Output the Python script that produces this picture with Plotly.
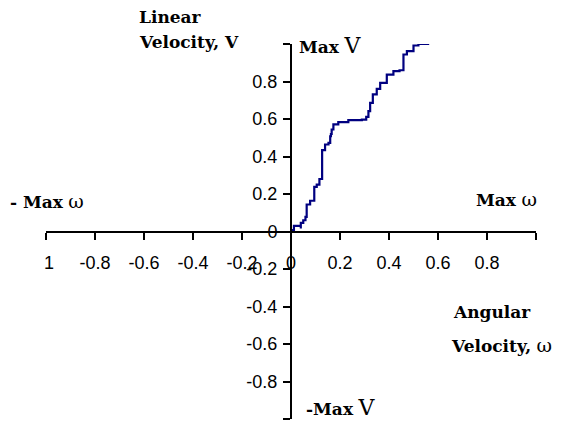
import plotly.graph_objects as go

# Data: angular velocity (x) vs linear velocity (y)
omega = [0.0, 0.012, 0.03, 0.04, 0.04, 0.05, 0.059, 0.064, 0.078, 0.095, 0.095, 0.105,
         0.116, 0.127, 0.127, 0.139, 0.153, 0.16, 0.163, 0.166, 0.173, 0.193, 0.234,
         0.289, 0.307, 0.316, 0.323, 0.334, 0.350, 0.364, 0.391, 0.418, 0.443, 0.459,
         0.459, 0.473, 0.50, 0.52, 0.564]
lin_v = [0.007, 0.03, 0.03, 0.016, 0.046, 0.06, 0.078, 0.144, 0.164, 0.17, 0.238, 0.25,
         0.28, 0.286, 0.434, 0.464, 0.473, 0.508, 0.52, 0.544, 0.571, 0.583, 0.594,
         0.597, 0.611, 0.642, 0.686, 0.731, 0.761, 0.793, 0.837, 0.855, 0.86, 0.866,
         0.944, 0.962, 0.992, 1.0, 1.0]

tick_vals = [-1, -0.8, -0.6, -0.4, -0.2, 0, 0.2, 0.4, 0.6, 0.8, 1]
x_tick_text = ["<span style='color:white'>-</span>1", "-0.8", "-0.6", "-0.4", "-0.2", "0",
               "0.2", "0.4", "0.6", "0.8", ""]
y_tick_text = ["-1", "-0.8", "-0.6", "-0.4", "-0.2", "0", "0.2", "0.4", "0.6", "0.8", ""]

W, H = 561, 423
L, R, T, B = 46, 25, 44, 4
PW, PH = W - L - R, H - T - B

def px(x):
    return (x - L) / PW

def py(y):
    return (H - B - y) / PH

fig = go.Figure()
fig.add_trace(go.Scatter(x=omega, y=lin_v, mode="lines", line_shape="hv",
                         line=dict(color="#000080", width=2.2), showlegend=False,
                         hoverinfo="skip", cliponaxis=False))

tickfont = dict(family="Liberation Sans, Arial", size=18, color="#000")
fig.update_layout(
    width=W, height=H, margin=dict(l=L, r=R, t=T, b=B),
    paper_bgcolor="white", plot_bgcolor="white",
    xaxis=dict(range=[-1, 1], anchor="free", position=0.5, showgrid=False, zeroline=False,
               showline=True, linecolor="#000", linewidth=2, ticks="outside", ticklen=7,
               tickwidth=2, tickcolor="#000", tickvals=tick_vals, ticktext=x_tick_text,
               tickfont=tickfont, ticklabelstandoff=8),
    yaxis=dict(range=[-1, 1], anchor="free", position=0.5, showgrid=False, zeroline=False,
               showline=True, linecolor="#000", linewidth=2, ticks="outside", ticklen=7,
               tickwidth=2, tickcolor="#000", tickvals=tick_vals, ticktext=y_tick_text,
               tickfont=tickfont, ticklabelstandoff=2),
)

serif = "DejaVu Serif, serif"
labels = [
    ("<b>Linear</b>", 137, 17),
    ("<b>Velocity, V</b>", 137, 42),
    ("<b>Max</b> <span style='font-size:22px'>V</span>", 297, 45),
    ("<b>- Max</b> <span style='font-size:19px'>ω</span>", 8, 201),
    ("<b>Max</b> <span style='font-size:19px'>ω</span>", 474, 199),
    ("<b>Angular</b>", 451, 312),
    ("<b>Velocity,</b> <span style='font-size:19px'>ω</span>", 449, 345),
    ("<b>-Max</b> <span style='font-size:22px'>V</span>", 304, 407),
]
for text, x, y in labels:
    fig.add_annotation(text=text, xref="paper", yref="paper", x=px(x), y=py(y),
                       xanchor="left", yanchor="middle", showarrow=False,
                       font=dict(family=serif, size=17, color="#000"))

fig.write_html("out.html")
